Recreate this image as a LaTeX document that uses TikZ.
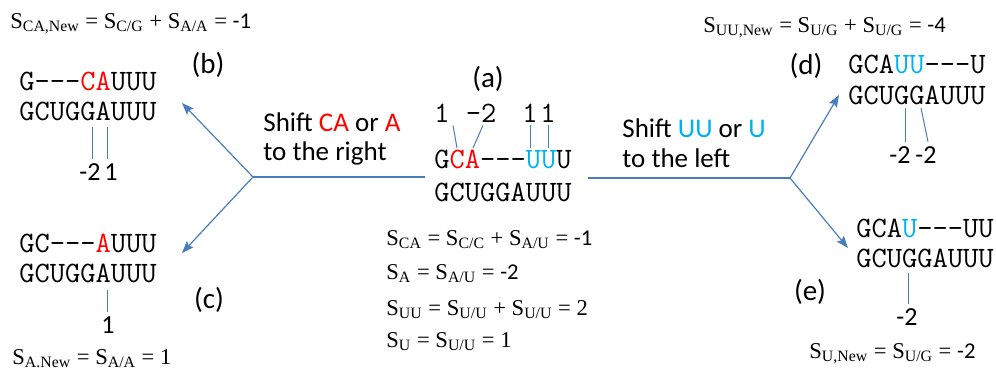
\documentclass[tikz,border=0pt]{standalone}
\usepackage{fontspec}
\setmainfont{Liberation Serif}
\newfontfamily\calfont{Carlito}
\usetikzlibrary{arrows.meta,positioning}
\definecolor{lnblue}{HTML}{4A7EBB}
\definecolor{ntred}{HTML}{FF0000}
\definecolor{ntcyan}{HTML}{00B0F0}
\newcommand{\rd}[1]{\textcolor{ntred}{#1}}
\newcommand{\cy}[1]{\textcolor{ntcyan}{#1}}
\newcommand{\sbs}[1]{\textsubscript{#1}}
\newcommand{\gp}{-{}-{}-}
\tikzset{sq/.style={font=\ttfamily\fontsize{14.8}{17}\selectfont,inner sep=0pt,anchor=base west},
 tn/.style={font=\ttfamily\fontsize{14.8}{17}\selectfont,inner sep=1.5pt,anchor=base},
 lb/.style={font=\calfont\fontsize{14.5}{17}\selectfont,inner sep=0pt},
 sh/.style={font=\calfont\fontsize{13.5}{16}\selectfont,inner sep=0pt,anchor=base west},
 sc/.style={font=\calfont\fontsize{13}{15}\selectfont,inner sep=2pt,anchor=base},
 eq/.style={font=\fontsize{11.3}{13}\selectfont,inner sep=0pt,anchor=base west},
 tk/.style={draw=lnblue,line width=0.5pt},
 ln/.style={draw=lnblue,line width=0.6pt},
 ar/.style={ln,-{Stealth[length=6pt,width=4.5pt,inset=1pt]}}}

\begin{document}
\begin{tikzpicture}[x=0.5pt,y=-0.5pt]
\useasboundingbox (0,0) rectangle (996,371);
% (a) starting alignment
\node[lb](la) at (488,79) {(a)};
\node[sq](a1) at (434,168) {G\rd{CA}\gp\cy{UU}U};
\node[sq](a2) at (434,201) {GCUGGAUUU};
\node[tn](t1) at (442,122) {1};
\node[tn](t2) at (481,122) {-2};
\node[tn](t3) at (530,122) {1};
\node[tn](t4) at (548,122) {1};
\coordinate (aC) at (457,148);\coordinate (aA) at (473,148);
\draw[tk](t1.south east)--(aC);\draw[tk]([xshift=1pt]t2.south)--(aA);
\draw[tk](t3.south)--(t3.south|-aC);\draw[tk](t4.south)--(t4.south|-aC);
\node[eq](e1) at (386,245) {S\sbs{CA} = S\sbs{C/C} + S\sbs{A/U} = {\calfont -1}};
\node[eq](e2) at (386,279) {S\sbs{A} = S\sbs{A/U} = {\calfont -2}};
\node[eq](e3) at (386,315) {S\sbs{UU} = S\sbs{U/U} + S\sbs{U/U} = 2};
\node[eq](e4) at (386,347) {S\sbs{U} = S\sbs{U/U} = 1};
% shift texts
\node[sh](sl1) at (263,131) {Shift \rd{CA} or \rd{A}};
\node[sh](sl2) at (263,160) {to the right};
\node[sh](sr1) at (622,137) {Shift \cy{UU} or \cy{U}};
\node[sh](sr2) at (622,167) {to the left};
% branches
\coordinate (brL) at (253,177);\coordinate (brR) at (790,178);
\coordinate (tb) at (182,103);\coordinate (tc) at (182,253);
\coordinate (td) at (839,95);\coordinate (te) at (848,248);
\draw[ln](brL)--([xshift=-4.5pt]brL-|a1.west);
\draw[ln]([xshift=8pt]brR-|a1.east)--(brR);
\draw[ar](brL)--(tb);\draw[ar](brL)--(tc);
\draw[ar](brR)--(td);\draw[ar](brR)--(te);
% (b)
\node[eq](eb) at (10,28) {S\sbs{CA,New} = S\sbs{C/G} + S\sbs{A/A} = {\calfont -1}};
\node[lb](lbb) at (208,65) {(b)};
\node[sq](b1) at (19,90) {G\gp\rd{CA}UUU};
\node[sq](b2) at (19,120) {GCUGGAUUU};
\node[sc](nb1) at (90,180) {-2};
\node[sc](nb2) at (111,180) {1};
\coordinate (bG) at (92,127);\coordinate (bA) at (107,127);
\draw[tk](bG)--(bG|-nb1.north);\draw[tk](bA)--(bA|-nb2.north);
% (c)
\node[lb](lc) at (209,300) {(c)};
\node[sq](c1) at (19,252) {GC\gp\rd{A}UUU};
\node[sq](c2) at (19,282) {GCUGGAUUU};
\node[sc](nc1) at (108,333) {1};
\coordinate (cA) at (107,290);
\draw[tk](cA)--(cA|-nc1.north);
\node[eq](ec) at (12,364) {S\sbs{A.New} = S\sbs{A/A} = 1};
% (d)
\node[eq](ed) at (703,32) {S\sbs{UU,New} = S\sbs{U/G} + S\sbs{U/G} = {\calfont -4}};
\node[lb](ld) at (806,66) {(d)};
\node[sq](d1) at (848,73) {GCA\cy{UU}\gp U};
\node[sq](d2) at (848,104) {GCUGGAUUU};
\node[sc](nd1) at (900,163) {-2};
\node[sc](nd2) at (926,163) {-2};
\coordinate (dG1) at (905,108);\coordinate (dG2) at (921,108);
\draw[tk](dG1)--(dG1|-nd1.north);\draw[tk](dG2)--([xshift=3.5pt]dG2|-nd2.north);
% (e)
\node[lb](le) at (810,292) {(e)};
\node[sq](f1) at (856,237) {GCA\cy{U}\gp UU};
\node[sq](f2) at (856,267) {GCUGGAUUU};
\node[sc](ne1) at (907,325) {-2};
\coordinate (eG) at (908,273);
\draw[tk](eG)--(eG|-ne1.north);
\node[eq](ee) at (809,358) {S\sbs{U,New} = S\sbs{U/G} = {\calfont -2}};
\end{tikzpicture}
\end{document}
